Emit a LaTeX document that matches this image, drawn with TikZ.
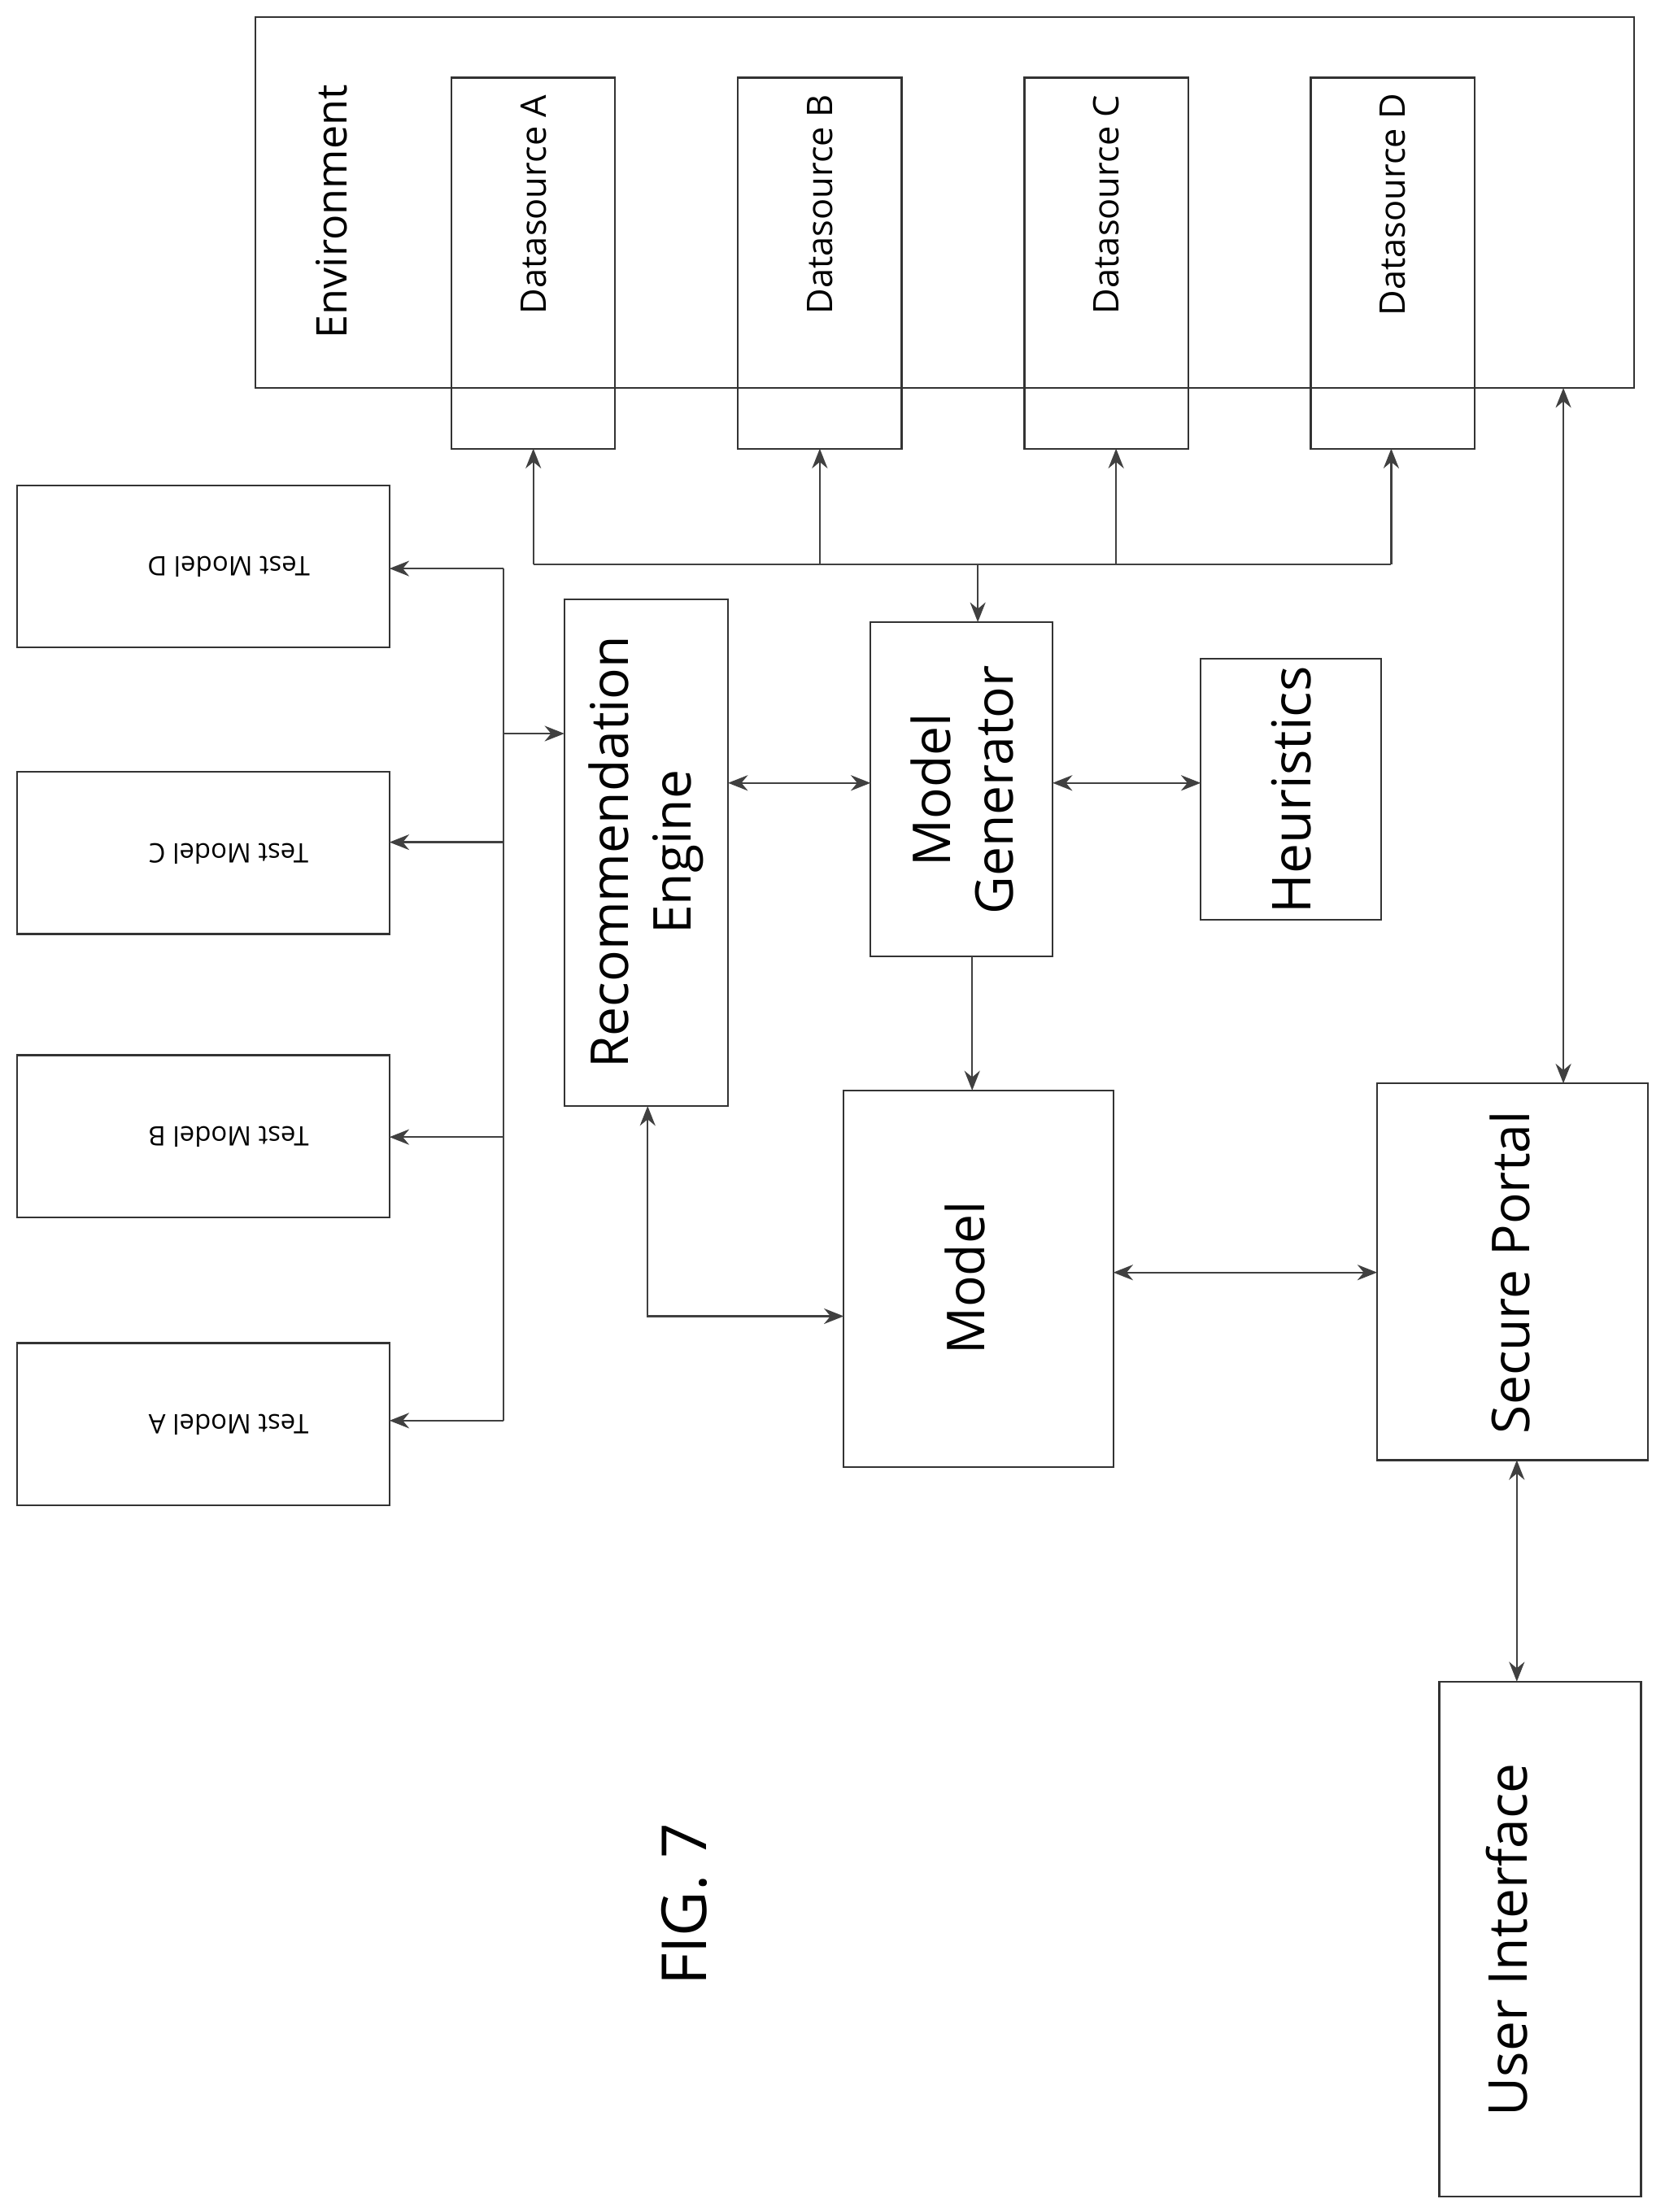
\documentclass[tikz,border=0pt]{standalone}
\usepackage{fontspec}
\setmainfont{Open Sans}
\usetikzlibrary{arrows.meta}
\begin{document}
\begin{tikzpicture}[x=1pt,y=-1pt,
  bx/.style={draw=black!80,line width=1.3pt},
  ar/.style={draw=black!75,line width=1.3pt,-{Stealth[length=14pt,width=11pt]}},
  br/.style={draw=black!75,line width=1.3pt,{Stealth[length=14pt,width=11pt]}-{Stealth[length=14pt,width=11pt]}},
  fs/.style={font=\fontsize{#1}{1.2\dimexpr#1pt\relax}\selectfont}]
\useasboundingbox (0,0) rectangle (1180,1568);
\draw[bx] (181,12) rectangle (1158,275);
\node[fs=30,rotate=90] (env) at (235,150) {Environment};
\foreach \n/\x in {A/320,B/523,C/726,D/929}{
  \draw[bx] (\x,55) rectangle ++(116,263);
  \node[fs=25,rotate=90] (ds\n) at (\x+58,145) {Datasource \n};
  \coordinate (dsb\n) at (\x+58,318);
}
\coordinate (h1) at (378,400); \coordinate (h2) at (986,400);
\draw[black!75,line width=1.3pt] (h1) -- (h2);
\draw[ar] (h1) -- (h1 |- dsbA);
\coordinate (hb) at (581,400); \draw[ar] (hb) -- (hb |- dsbB);
\coordinate (hc) at (791,400); \draw[ar] (hc) -- (hc |- dsbC);
\draw[ar] (h2) -- (h2 |- dsbD);
% test models
\foreach \n/\y in {A/952,B/748,C/547,D/344}{
  \draw[bx] (12,\y) rectangle ++(264,115);
  \node[fs=19,rotate=180] (tm\n) at (162,\y+58) {Test Model \n};
}
\draw[black!75,line width=1.3pt] (357,403) -- (357,1007);
\foreach \y in {403,597,806,1007}{ \draw[ar] (357,\y) -- (276,\y); }
\draw[ar] (357,520) -- (400,520);
% RE
\draw[bx] (400,425) rectangle (516,784);
\node[fs=37,rotate=90,align=center] (re) at (458,604) {Recommendation\\Engine};
% MG
\draw[bx] (617,441) rectangle (746,678);
\node[fs=37,rotate=90,align=center] (mg) at (682,560) {Model\\Generator};
\coordinate (hm) at (693,400);
\draw[ar] (hm) -- (693,441);
% heuristics
\draw[bx] (851,467) rectangle (979,652);
\node[fs=38,rotate=90] (he) at (915,560) {Heuristics};
\draw[br] (516,555) -- (617,555);
\draw[br] (746,555) -- (851,555);
% model
\draw[bx] (598,773) rectangle (789,1040);
\node[fs=37,rotate=90] (mo) at (684,906) {Model};
\draw[ar] (689,678) -- (689,773);
\draw[br] (459,784) -- (459,933) -- (598,933);
% secure portal
\draw[bx] (976,768) rectangle (1168,1035);
\node[fs=37,rotate=90] (sp) at (1070,902) {Secure Portal};
\draw[br] (789,902) -- (976,902);
\draw[br] (1108,768) -- (1108,275);
% UI
\draw[bx] (1020,1192) rectangle (1163,1557);
\node[fs=38,rotate=90] (ui) at (1068,1375) {User Interface};
\draw[br] (1075,1035) -- (1075,1192);
\node[fs=44,rotate=90] (fig) at (485,1350) {FIG. 7};
\end{tikzpicture}
\end{document}
